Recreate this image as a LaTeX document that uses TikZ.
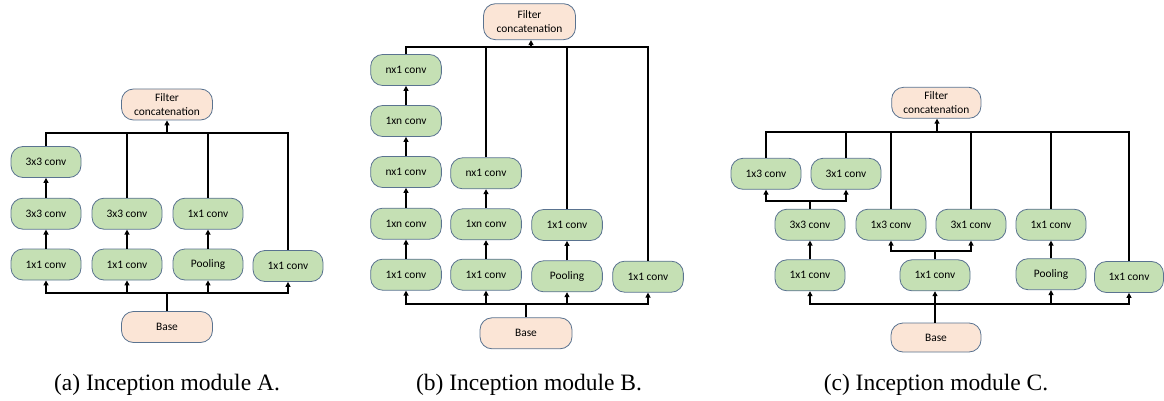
\documentclass[tikz,border=0pt]{standalone}
\usepackage{fontspec}
\setmainfont{Liberation Serif}
\newfontfamily\carl{Carlito}
\usetikzlibrary{arrows.meta}
\definecolor{gfill}{HTML}{C5E0B4}
\definecolor{pfill}{HTML}{FBE5D6}
\definecolor{bord}{HTML}{5A7390}
\tikzset{
  conv/.style={draw=bord,line width=0.8pt,fill=gfill,rounded corners=12pt,minimum width=70pt,minimum height=31pt,inner sep=0pt,font=\carl\fontsize{11.4}{14}\selectfont,align=center},
  io/.style={conv,fill=pfill,minimum width=91pt},
  wire/.style={line width=1.9pt,black},
  bus/.style={wire,line cap=rect},
  arr/.style={wire,-{Triangle[length=5pt,width=5pt]}},
  captxt/.style={anchor=base,inner sep=0pt,font=\fontsize{23.5}{28}\selectfont}
}
\begin{document}
\begin{tikzpicture}[x=1pt,y=-1pt]
\useasboundingbox[fill=white] (0,0) rectangle (1164,401);
% ---------------- Panel A ----------------
\node[io] (aC) at (167,104.5) {Filter\\concatenation};
\node[conv] (a13) at (46,162) {3x3 conv};
\node[conv] (a12) at (46,213.7) {3x3 conv};
\node[conv] (a11) at (46,264.5) {1x1 conv};
\node[conv] (a22) at (127,213.7) {3x3 conv};
\node[conv] (a21) at (127,264.5) {1x1 conv};
\node[conv] (a32) at (208,213.7) {1x1 conv};
\node[conv] (a31) at (208,264.5) {Pooling};
\node[conv] (a41) at (288,266) {1x1 conv};
\node[io] (aB) at (167,327) {Base};
\coordinate (aT) at (167,132.7);
\coordinate (aD) at (167,293.3);
\draw[wire] (a13.north) -- (a13.north |- aT) -- (a41.north |- aT) -- (a41.north);
\draw[wire] (a22.north) -- (a22.north |- aT);
\draw[wire] (a32.north) -- (a32.north |- aT);
\draw[arr] (aT) -- (aC.south);
\draw[arr] (a12) -- (a13);
\draw[arr] (a11) -- (a12);
\draw[arr] (a21) -- (a22);
\draw[arr] (a31) -- (a32);
\draw[wire] (aB.north) -- (aD);
\draw[bus] (a11.south |- aD) -- (a41.south |- aD);
\foreach \n in {a11,a21,a31,a41} \draw[arr] (\n.south |- aD) -- (\n.south);
\node[captxt] (capA) at (167,390.7) {(a) Inception module A.};
% ---------------- Panel B ----------------
\node[io,minimum height=36pt,minimum width=92pt] (bC) at (529.5,21.7) {Filter\\concatenation};
\node[conv,minimum width=70.7pt] (b15) at (406,70) {nx1 conv};
\node[conv,minimum width=70.7pt] (b14) at (406,121) {1xn conv};
\node[conv,minimum width=70.7pt] (b13) at (406,172) {nx1 conv};
\node[conv,minimum width=70.7pt] (b12) at (406,223.7) {1xn conv};
\node[conv,minimum width=70.7pt] (b11) at (406,274.7) {1x1 conv};
\node[conv,minimum width=70.7pt] (b23) at (486,173.3) {nx1 conv};
\node[conv,minimum width=70.7pt] (b22) at (486,224.3) {1xn conv};
\node[conv,minimum width=70.7pt] (b21) at (486,274.7) {1x1 conv};
\node[conv,minimum width=70.7pt] (b32) at (567,225) {1x1 conv};
\node[conv,minimum width=70.7pt] (b31) at (567,276.3) {Pooling};
\node[conv,minimum width=70.7pt] (b41) at (648,276.7) {1x1 conv};
\node[io,minimum width=92pt] (bB) at (526,333.3) {Base};
\coordinate (bT) at (531,46.7);
\coordinate (bD) at (526,304);
\draw[wire] (b15.north) -- (b15.north |- bT) -- (b41.north |- bT) -- (b41.north);
\draw[wire] (b23.north) -- (b23.north |- bT);
\draw[wire] (b32.north) -- (b32.north |- bT);
\draw[arr] (bT) -- (bT |- bC.south);
\draw[arr] (b14) -- (b15);
\draw[arr] (b13) -- (b14);
\draw[arr] (b12) -- (b13);
\draw[arr] (b11) -- (b12);
\draw[arr] (b22) -- (b23);
\draw[arr] (b21) -- (b22);
\draw[arr] (b31) -- (b32);
\draw[wire] (bB.north) -- (bD);
\draw[bus] (b11.south |- bD) -- (b41.south |- bD);
\foreach \n in {b11,b21,b31,b41} \draw[arr] (\n.south |- bD) -- (\n.south);
\node[captxt] (capB) at (529,390.7) {(b) Inception module B.};
% ---------------- Panel C ----------------
\node[io,minimum width=89.3pt] (cC) at (936.3,102.8) {Filter\\concatenation};
\node[conv] (c31) at (766,173.8) {1x3 conv};
\node[conv] (c32) at (846,173.8) {3x1 conv};
\node[conv] (c2a) at (810,224.7) {3x3 conv};
\node[conv] (c2b) at (891,224.7) {1x3 conv};
\node[conv] (c2c) at (971,224.7) {3x1 conv};
\node[conv] (c2d) at (1051,224.7) {1x1 conv};
\node[conv] (c1a) at (810,275.3) {1x1 conv};
\node[conv] (c1b) at (935,275.3) {1x1 conv};
\node[conv] (c1c) at (1051,274.2) {Pooling};
\node[conv,minimum width=69pt] (c1d) at (1129,277) {1x1 conv};
\node[io,minimum width=90pt,minimum height=29pt] (cB) at (936,337.5) {Base};
\coordinate (cT) at (937,131.7);
\coordinate (cD) at (935,304);
\coordinate (cS1) at (810,200.7);
\coordinate (cS2) at (935,251);
\draw[wire] (c31.north) -- (c31.north |- cT) -- (c1d.north |- cT) -- (c1d.north);
\draw[wire] (c32.north) -- (c32.north |- cT);
\draw[wire] (c2b.north) -- (c2b.north |- cT);
\draw[wire] (c2c.north) -- (c2c.north |- cT);
\draw[wire] (c2d.north) -- (c2d.north |- cT);
\draw[arr] (cT) -- (cT |- cC.south);
% split above 3x3
\draw[wire] (c2a) -- (cS1);
\draw[bus] (c31.south |- cS1) -- (c32.south |- cS1);
\draw[arr] (c31.south |- cS1) -- (c31.south);
\draw[arr] (c32.south |- cS1) -- (c32.south);
% split above middle 1x1
\draw[wire] (c1b) -- (cS2);
\draw[bus] (c2b.south |- cS2) -- (c2c.south |- cS2);
\draw[arr] (c2b.south |- cS2) -- (c2b.south);
\draw[arr] (c2c.south |- cS2) -- (c2c.south);
\draw[arr] (c1a) -- (c2a);
\draw[arr] (c1c) -- (c2d);
% base and bottom bus
\draw[wire] (cD |- cB.north) -- (cD);
\draw[bus] (c1a.south |- cD) -- (c1d.south |- cD);
\foreach \n in {c1a,c1b,c1c,c1d} \draw[arr] (\n.south |- cD) -- (\n.south);
\node[captxt] (capC) at (936,390.7) {(c) Inception module C.};
\end{tikzpicture}
\end{document}
